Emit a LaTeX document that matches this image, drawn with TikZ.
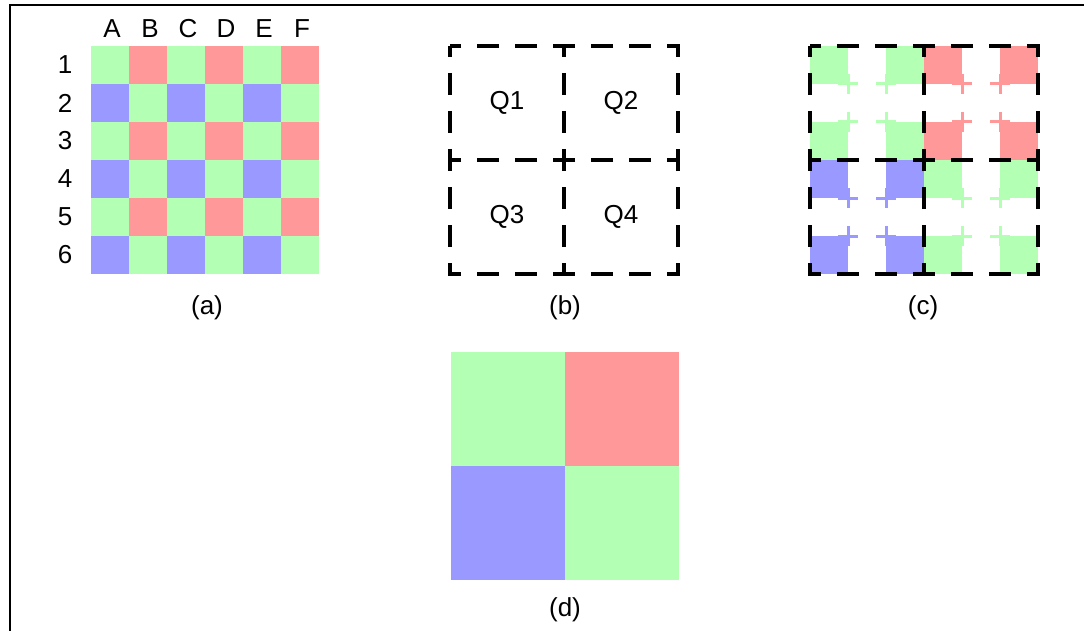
\documentclass[tikz,border=0pt]{standalone}
\usepackage{fontspec}
\setmainfont{Liberation Sans}
\definecolor{pixG}{HTML}{B3FFB3}
\definecolor{pixR}{HTML}{FF9999}
\definecolor{pixB}{HTML}{9999FF}

\begin{document}
\begin{tikzpicture}[x=0.75pt, y=-0.75pt,
	every node/.style={font=\fontsize{19.5}{22}\selectfont},
	frame/.style={line width=1.5pt},
	quadline/.style={line width=3pt, dash pattern=on 16.5pt off 12pt, dash phase=8.25pt},
	tickline/.style={line width=2.25pt}]
	\useasboundingbox (0,0) rectangle (1084,631);
	\draw[frame] (10,631) -- (10,5.5) -- (1084,5.5);

	% (a) the full pattern
	\foreach \r in {0,2,4}
		\foreach \c in {0,2,4} {
			\fill[pixG] (91+38*\c, 46+38*\r) rectangle ++(38,38);
			\fill[pixR] (129+38*\c, 46+38*\r) rectangle ++(38,38);
			\fill[pixB] (91+38*\c, 84+38*\r) rectangle ++(38,38);
			\fill[pixG] (129+38*\c, 84+38*\r) rectangle ++(38,38);
		}
	\foreach \l [count=\i from 0] in {A,...,F}
		\node (col\l) at (112+38*\i, 29) {\l};
	\foreach \i in {1,...,6}
		\node (row\i) at (65, 27+38*\i) {\i};
	\node (capA) at (207,308) {(a)};

	% (b) the quadrants
	\foreach \x in {0,114}
		\foreach \y in {0,114}
			\draw[quadline] (450+\x, 46+\y) rectangle ++(114,114);
	\node (Q1) at (507,103) {Q1};
	\node (Q2) at (621,103) {Q2};
	\node (Q3) at (507,217) {Q3};
	\node (Q4) at (621,217) {Q4};
	\node (capB) at (565,308) {(b)};

	% (c) corners kept in each quadrant
	\foreach \qx/\qy/\qc in {0/0/pixG, 114/0/pixR, 0/114/pixB, 114/114/pixG} {
		\foreach \dx in {38,76}
			\foreach \dy in {38,76}
				\draw[tickline, draw=\qc] (800+\qx+\dx, 46+\qy+\dy) -- ++(20,0) ++(-10,-10) -- ++(0,20);
		\foreach \dx in {0,76}
			\foreach \dy in {0,76}
				\fill[fill=\qc] (810+\qx+\dx, 46+\qy+\dy) rectangle ++(38,38);
	}
	\foreach \x in {0,114}
		\foreach \y in {0,114}
			\draw[quadline] (810+\x, 46+\y) rectangle ++(114,114);
	\node (capC) at (923,308) {(c)};

	% (d) binned result
	\fill[pixG] (451,352) rectangle ++(114,114);
	\fill[pixR] (565,352) rectangle ++(114,114);
	\fill[pixB] (451,466) rectangle ++(114,114);
	\fill[pixG] (565,466) rectangle ++(114,114);
	\node (capD) at (565,610) {(d)};
\end{tikzpicture}
\end{document}
